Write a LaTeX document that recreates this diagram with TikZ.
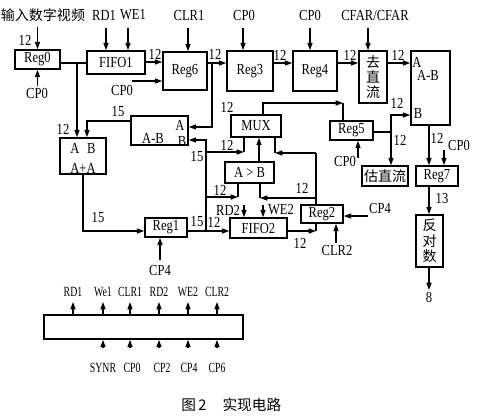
\documentclass[tikz,border=0pt]{standalone}
\usepackage{fontspec}
\setmainfont{Liberation Serif}[FakeStretch=0.82]
\newfontfamily\narrowfont{Liberation Serif}[FakeStretch=0.7]
\newfontfamily\cjk{Noto Sans CJK SC}
\usetikzlibrary{arrows.meta}
\newcommand\lfs{\fontsize{11.5}{13}\selectfont}
\newcommand\cfs{\cjk\fontsize{10.5}{11.5}\selectfont}
\newcommand\sfs{\narrowfont\fontsize{10.5}{12}\selectfont}
\begin{document}
\begin{tikzpicture}[x=0.75pt,y=-0.75pt,
 box/.style={draw,line width=1.2pt,inner sep=0pt,font=\lfs},
 ln/.style={line width=0.9pt},
 arr/.style={ln,-{Triangle[length=5.5pt,width=3.8pt]}},
 lbl/.style={inner sep=0pt,font=\lfs},
 cl/.style={inner sep=0pt,font=\cfs},
 sl/.style={inner sep=0pt,font=\sfs},
]
\useasboundingbox (0,0) rectangle (478,419);

% ---------- boxes
\node[box,minimum width=33.75pt,minimum height=14.25pt] (reg0) at (37.5,59.5) {Reg0};
\node[box,minimum width=43.5pt,minimum height=17.25pt] (fifo1) at (116,62.5) {FIFO1};
\node[box,minimum width=33pt,minimum height=28.5pt] (reg6) at (185,71) {Reg6};
\node[box,minimum width=34.5pt,minimum height=30pt] (reg3) at (250,71) {Reg3};
\node[box,minimum width=33pt,minimum height=30pt] (reg4) at (315,71) {Reg4};
\node[box,minimum width=21pt,minimum height=39pt,align=center,font=\cfs] (qzl) at (373,77) {去\\直\\流};
\node[box,minimum width=29.25pt,minimum height=55.5pt] (abig) at (430.5,88) {};
\node[box,minimum width=42.75pt,minimum height=21.75pt] (ab2) at (159.5,130.5) {};
\node[box,minimum width=34.5pt,minimum height=27pt] (aa) at (83,156) {};
\node[box,minimum width=37.5pt,minimum height=16.5pt] (mux) at (256,126) {MUX};
\node[box,minimum width=32.25pt,minimum height=14.25pt] (reg5) at (351.5,130.5) {Reg5};
\node[box,minimum width=34.5pt,minimum height=15pt,font=\cfs] (gzl) at (385,176) {估直流};
\node[box,minimum width=31.5pt,minimum height=15pt] (reg7) at (437,176) {Reg7};
\node[box,minimum width=20.25pt,minimum height=39pt,align=center,font=\cfs] (fds) at (429.5,241) {反\\对\\数};
\node[box,minimum width=36.75pt,minimum height=15.75pt] (agtb) at (249.5,172.5) {A > B};
\node[box,minimum width=31.5pt,minimum height=14.25pt] (reg1) at (166,227.5) {Reg1};
\node[box,minimum width=42.75pt,minimum height=15pt] (fifo2) at (258.5,228) {FIFO2};
\node[box,minimum width=31.5pt,minimum height=13.5pt] (reg2) at (322,214) {Reg2};
\node[box,minimum width=149.25pt,minimum height=18pt] (ctrl) at (143.5,327) {};

% ---------- texts inside boxes
\node[lbl] (abA) at (180,125) {A};
\node[lbl] (abB) at (182,141) {B};
\node[lbl] (abT) at (153,138) {A-B};
\node[lbl] (aaT) at (83,148) {A\enspace B};
\node[lbl] (aaB) at (83,168) {A+A};
\node[lbl,anchor=west] (bigA) at (412,62) {A};
\node[lbl] (bigT) at (428,75) {A-B};
\node[lbl] (bigB) at (418,113) {B};

% ---------- labels
\node[inner sep=0pt,font=\cjk\fontsize{10.5}{12}\selectfont] (tin) at (43,15) {输入数字视频};
\node[lbl] (l1) at (25,40) {12};
\node[lbl] (l2) at (37,93) {CP0};
\node[lbl] (l3) at (104,15) {RD1};
\node[lbl] (l4) at (133,15) {WE1};
\node[lbl] (l5) at (155,54) {12};
\node[lbl] (l6) at (122,90) {CP0};
\node[lbl] (l7) at (189,15) {CLR1};
\node[lbl] (l8) at (215,54) {12};
\node[lbl] (l9) at (244,15) {CP0};
\node[lbl] (l10) at (280,55) {12};
\node[lbl] (l11) at (310,15) {CP0};
\node[lbl] (l12) at (350,55) {12};
\node[lbl] (l13) at (375,15) {CFAR/CFAR};
\node[lbl] (l14) at (398,55) {12};
\node[lbl] (l15) at (63,129) {12};
\node[lbl] (l16) at (118,112) {15};
\node[lbl] (l17) at (227,107) {12};
\node[lbl] (l18) at (227,145) {12};
\node[lbl] (l19) at (197,157) {15};
\node[lbl] (l20) at (220,190) {12};
\node[lbl] (l21) at (302,188) {12};
\node[lbl] (l22) at (98,218) {15};
\node[lbl] (l23) at (197,222) {15};
\node[lbl] (l24) at (214,222) {12};
\node[lbl] (l25) at (228,210) {RD2};
\node[lbl] (l26) at (281,210) {WE2};
\node[lbl] (l27) at (380,208) {CP4};
\node[lbl] (l28) at (337,250) {CLR2};
\node[lbl] (l29) at (300,243) {12};
\node[lbl] (l30) at (160,270) {CP4};
\node[lbl] (l31) at (397,103) {12};
\node[lbl] (l32) at (400,140) {12};
\node[lbl] (l33) at (345,161) {CP0};
\node[lbl] (l34) at (437,138) {12};
\node[lbl] (l35) at (459,145) {CP0};
\node[lbl] (l36) at (442,198) {13};
\node[lbl] (l37) at (429,297) {8};

% ---------- top row connectors
\draw[arr] (reg0.north |- 0,27) -- (reg0.north);
\draw[arr] (reg0.south |- 0,86) -- (reg0.south);
\draw[ln] (reg0.east |- 0,63) -- (fifo1.west |- 0,63);
\draw[arr] (77,63) -- (77,0 |- aa.north);
\draw[arr] (106,28) -- (106,0 |- fifo1.north);
\draw[arr] (128,28) -- (128,0 |- fifo1.north);
\draw[arr] (fifo1.east |- 0,62) -- (reg6.west |- 0,62);
\draw[arr] (132,81) -- (reg6.west |- 0,81);
\draw[arr] (188,28) -- (188,0 |- reg6.north);
\draw[arr] (reg6.east |- 0,63) -- (reg3.west |- 0,63);
\draw[arr] (212,63) |- (ab2.east |- 0,127);
\draw[arr] (243,28) -- (243,0 |- reg3.north);
\draw[arr] (reg3.east |- 0,63) -- (reg4.west |- 0,63);
\draw[arr] (310,28) -- (310,0 |- reg4.north);
\draw[arr] (reg4.east |- 0,63) -- (qzl.west |- 0,63);
\draw[arr] (368,28) -- (368,0 |- qzl.north);
\draw[arr] (qzl.east |- 0,63) -- (abig.west |- 0,63);

% ---------- left part
\draw[arr] (ab2.west |- 0,121) -| (87,0 |- aa.north);
\draw[arr] (aa.south) |- (reg1.west |- 0,231);
\draw[arr] (160,260) -- (160,0 |- reg1.south);
\draw[arr] (reg1.east |- 0,231) -- (fifo2.west |- 0,231);
\draw[arr] (206,231) |- (ab2.east |- 0,140);
\draw[arr] (206,152) -- (244,152);
\draw[ln] (244,152) -- (244,0 |- mux.south);
\draw[arr] (206,197) -- (238,197);
\draw[ln] (238,197) -- (238,0 |- agtb.south);

% ---------- middle part
\draw[arr] (259,0 |- agtb.north) -- (259,0 |- mux.south);
\draw[ln] (260,0 |- agtb.south) -- (260,198);
\draw[arr] (316,198) -- (260,198);
\draw[ln] (316,0 |- reg2.north) -- (316,153);
\draw[arr] (316,153) -- (275,153);
\draw[ln] (275,153) -- (275,0 |- mux.south);
\draw[arr] (fifo2.east |- 0,231) -- (316,231);
\draw[ln] (316,231) -- (316,0 |- reg2.south);
\draw[arr] (244,205) -- (244,0 |- fifo2.north);
\draw[arr] (263,205) -- (263,0 |- fifo2.north);
\draw[arr] (368,216) -- (reg2.east |- 0,216);
\draw[arr] (336,243) -- (336,0 |- reg2.south);
\draw[arr] (263,0 |- mux.north) |- (343,103);
\draw[ln] (343,103) -- (343,0 |- reg5.north);

% ---------- right part
\draw[ln] (reg5.east |- 0,132) -- (391,132);
\draw[arr] (391,132) |- (abig.west |- 0,115);
\draw[arr] (391,132) -- (391,0 |- gzl.north);
\draw[arr] (358,158) -- (358,0 |- reg5.south);
\draw[arr] (429,0 |- abig.south) -- (429,0 |- reg7.north);
\draw[arr] (444,150) -- (444,0 |- reg7.north);
\draw[arr] (429,0 |- reg7.south) -- (429,0 |- fds.north);
\draw[arr] (429,0 |- fds.south) -- (429,290);

% ---------- control box
\foreach \x/\t [count=\i] in {73/RD1,103/We1,130/CLR1,159/RD2,188/WE2,217/CLR2}{
  \draw[arr] (\x,0 |- ctrl.north) -- (\x,302);
  \node[sl] (ct\i) at (\x,292) {\t};
}
\foreach \x/\lx/\t [count=\i] in {103/103/SYNR,130/132/CP0,159/162/CP2,188/189/CP4,217/217/CP6}{
  \draw[arr] (\x,348) -- (\x,0 |- ctrl.south);
  \node[sl] (cb\i) at (\lx,368) {\t};
}

% ---------- caption
\node[inner sep=0pt,anchor=west,font=\cjk\fontsize{11}{13}\selectfont] (cap) at (181,405) {图\,2\hspace{12pt}实现电路};
\end{tikzpicture}
\end{document}
